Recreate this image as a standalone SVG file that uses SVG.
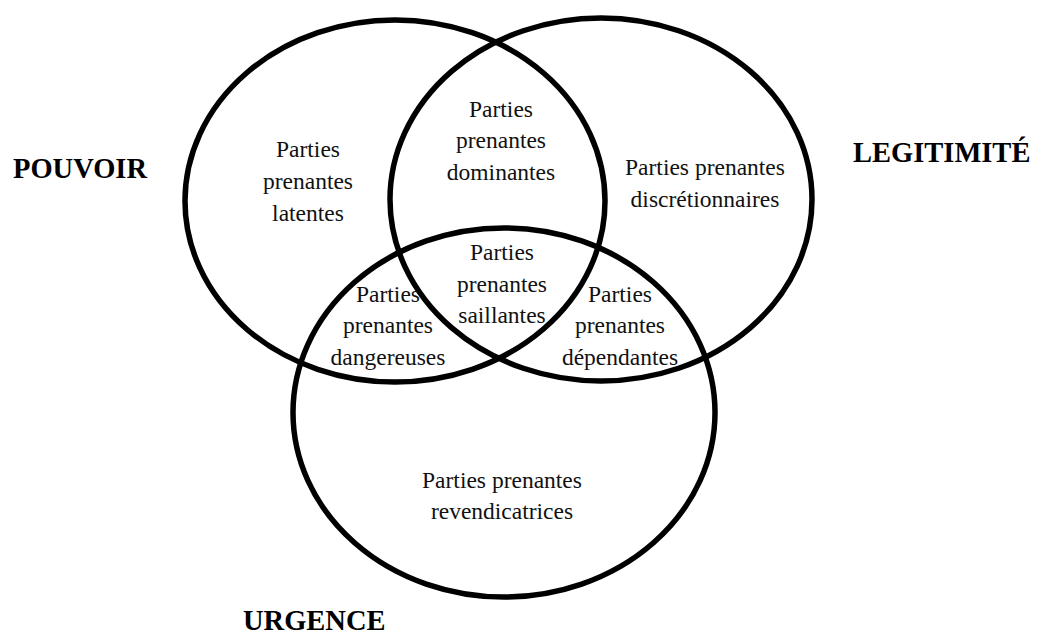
<svg xmlns="http://www.w3.org/2000/svg" width="1038" height="635" viewBox="0 0 1038 635">
<style>
.c{fill:none;stroke:#000;stroke-width:5.5}
.t{font-family:"Liberation Serif","Times New Roman",serif;font-size:23.5px;fill:#111;text-anchor:middle}
.b{font-family:"Liberation Serif","Times New Roman",serif;font-size:28.5px;font-weight:bold;fill:#000}
</style>
<rect width="1038" height="635" fill="#fff"/>
<g id="sets">
<ellipse id="pouvoir-circle" class="c" cx="395" cy="201" rx="210" ry="181"/>
<ellipse id="legitimite-circle" class="c" cx="601" cy="199.5" rx="211" ry="181.5"/>
<ellipse id="urgence-circle" class="c" cx="504" cy="412.5" rx="211" ry="184.5"/>
</g>
<g id="latentes"><text class="t" x="308" y="157">Parties</text><text class="t" x="308" y="189">prenantes</text><text class="t" x="308" y="221">latentes</text></g>
<g id="dominantes"><text class="t" x="501" y="117">Parties</text><text class="t" x="501" y="148">prenantes</text><text class="t" x="501" y="180">dominantes</text></g>
<g id="discretionnaires"><text class="t" x="705" y="175">Parties prenantes</text><text class="t" x="705" y="207">discrétionnaires</text></g>
<g id="saillantes"><text class="t" x="502" y="260">Parties</text><text class="t" x="502" y="292">prenantes</text><text class="t" x="502" y="323">saillantes</text></g>
<g id="dangereuses"><text class="t" x="388" y="302">Parties</text><text class="t" x="388" y="333">prenantes</text><text class="t" x="388" y="365">dangereuses</text></g>
<g id="dependantes"><text class="t" x="620" y="302">Parties</text><text class="t" x="620" y="333">prenantes</text><text class="t" x="620" y="365">dépendantes</text></g>
<g id="revendicatrices"><text class="t" x="502" y="488">Parties prenantes</text><text class="t" x="502" y="519">revendicatrices</text></g>
<g id="labels">
<text class="b" x="13" y="178">POUVOIR</text>
<text class="b" x="853" y="162">LEGITIMITÉ</text>
<text class="b" x="243" y="630">URGENCE</text>
</g>
</svg>
